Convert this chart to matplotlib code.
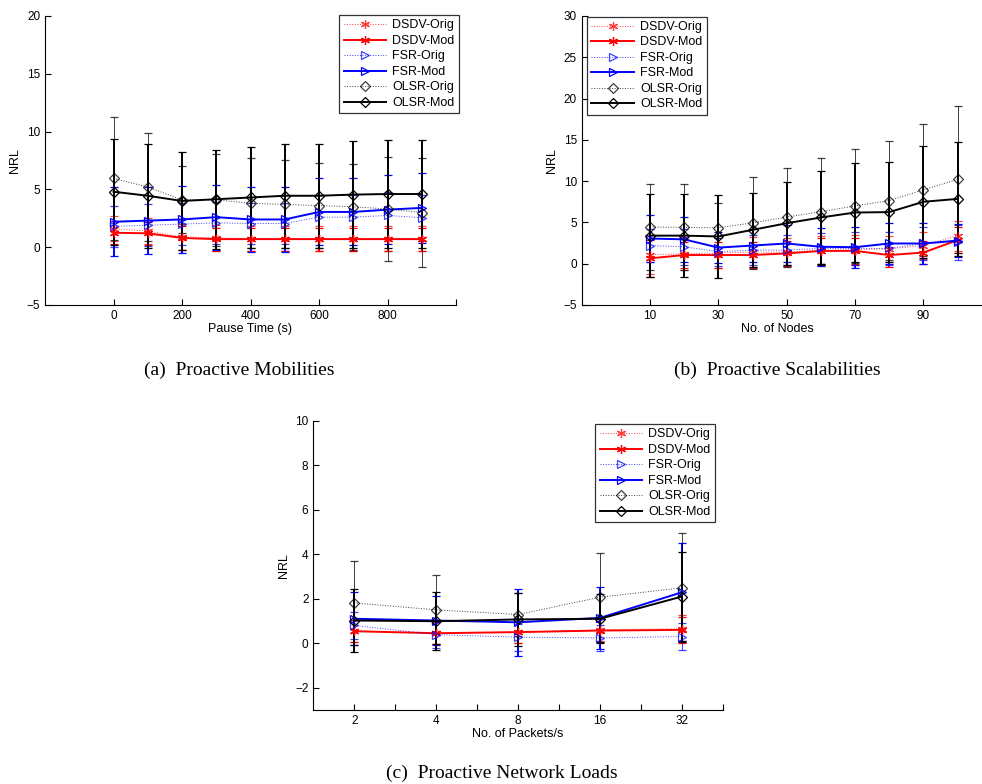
import numpy as np
import matplotlib
matplotlib.use("Agg")
from matplotlib import pyplot as plt

plt.rcParams['font.family'] = ['Liberation Sans', 'DejaVu Sans']

# Legend names, in drawing order
series_names = ['DSDV-Orig', 'DSDV-Mod', 'FSR-Orig', 'FSR-Mod', 'OLSR-Orig', 'OLSR-Mod']

# (a) mobility: NRL against pause time
pause_time = [0, 100, 200, 300, 400, 500, 600, 700, 800, 900]
mob_dsdv_orig = [1.6, 1.4, 0.9, 0.8, 0.75, 0.75, 0.75, 0.75, 0.75, 0.75]
mob_dsdv_orig_err = [1.1, 1.1, 1.1, 1.1, 1.1, 1.1, 1.1, 1.1, 1.1, 1.1]
mob_dsdv_mod = [1.25, 1.2, 0.8, 0.7, 0.7, 0.7, 0.7, 0.7, 0.7, 0.7]
mob_dsdv_mod_err = [1.0, 1.0, 1.0, 1.0, 1.0, 1.0, 1.0, 1.0, 1.0, 1.0]
mob_fsr_orig = [1.8, 1.9, 2.0, 2.1, 2.05, 2.05, 2.6, 2.6, 2.75, 2.55]
mob_fsr_orig_err = [1.8, 1.8, 1.8, 1.8, 1.8, 1.8, 1.9, 1.9, 2.0, 2.0]
mob_fsr_mod = [2.2, 2.3, 2.4, 2.6, 2.4, 2.4, 3.05, 3.05, 3.25, 3.4]
mob_fsr_mod_err = [3.0, 2.9, 2.9, 2.8, 2.8, 2.8, 2.9, 2.9, 3.0, 3.05]
mob_olsr_orig = [5.95, 5.2, 4.1, 4.1, 3.8, 3.7, 3.6, 3.5, 3.3, 3.0]
mob_olsr_orig_err = [5.3, 4.7, 2.9, 4.0, 3.9, 3.8, 3.7, 3.7, 4.5, 4.7]
mob_olsr_mod = [4.8, 4.45, 4.0, 4.15, 4.3, 4.45, 4.45, 4.55, 4.6, 4.6]
mob_olsr_mod_err = [4.6, 4.5, 4.2, 4.3, 4.4, 4.5, 4.5, 4.6, 4.65, 4.65]

# (b) scalability: NRL against number of nodes
num_nodes = [10, 20, 30, 40, 50, 60, 70, 80, 90, 100]
sc_dsdv_orig = [1.1, 1.2, 1.3, 1.4, 1.4, 1.6, 1.7, 1.8, 2.2, 3.4]
sc_dsdv_orig_err = [2.4, 2.0, 1.8, 1.8, 1.7, 1.8, 1.8, 1.6, 1.6, 1.8]
sc_dsdv_mod = [0.65, 1.05, 1.05, 1.05, 1.25, 1.55, 1.55, 1.05, 1.35, 2.85]
sc_dsdv_mod_err = [2.2, 1.6, 1.6, 1.6, 1.5, 1.6, 1.6, 1.4, 1.4, 1.6]
sc_fsr_orig = [2.2, 2.05, 1.45, 1.65, 1.65, 1.85, 1.85, 1.85, 2.45, 2.6]
sc_fsr_orig_err = [2.0, 2.2, 1.7, 1.8, 1.8, 1.9, 2.0, 2.0, 2.0, 2.1]
sc_fsr_mod = [3.05, 2.95, 1.95, 2.2, 2.45, 2.05, 2.0, 2.45, 2.45, 2.8]
sc_fsr_mod_err = [2.8, 2.7, 1.9, 2.0, 2.2, 2.3, 2.5, 2.5, 2.5, 2.0]
sc_olsr_orig = [4.45, 4.4, 4.35, 4.95, 5.65, 6.3, 7.0, 7.65, 8.95, 10.2]
sc_olsr_orig_err = [5.25, 5.2, 3.0, 5.6, 6.0, 6.5, 6.9, 7.2, 8.0, 8.9]
sc_olsr_mod = [3.4, 3.4, 3.3, 4.1, 4.9, 5.6, 6.2, 6.25, 7.5, 7.85]
sc_olsr_mod_err = [5.0, 5.0, 5.0, 4.5, 5.0, 5.6, 6.0, 6.1, 6.75, 6.95]

# (c) network load: NRL against packet rate
packet_rates = ['2', '4', '8', '16', '32']
ld_dsdv_orig = [0.55, 0.45, 0.5, 0.6, 0.65]
ld_dsdv_orig_err = [0.5, 0.5, 0.5, 0.5, 0.6]
ld_dsdv_mod = [0.54, 0.45, 0.5, 0.57, 0.6]
ld_dsdv_mod_err = [0.5, 0.5, 0.5, 0.5, 0.6]
ld_fsr_orig = [0.8, 0.39, 0.27, 0.24, 0.3]
ld_fsr_orig_err = [0.6, 0.6, 0.6, 0.6, 0.6]
ld_fsr_mod = [1.1, 1.02, 0.94, 1.14, 2.29]
ld_fsr_mod_err = [1.2, 1.1, 1.5, 1.4, 2.2]
ld_olsr_orig = [1.81, 1.5, 1.29, 2.07, 2.49]
ld_olsr_orig_err = [1.9, 1.55, 0.95, 2.0, 2.45]
ld_olsr_mod = [1.02, 0.99, 1.07, 1.1, 2.1]
ld_olsr_mod_err = [1.4, 1.3, 1.2, 1.1, 2.0]

# colour, marker, line style per series ((6, 2, 0) is an asterisk)
styles = [
    ('red', (6, 2, 0), ':'),
    ('red', (6, 2, 0), '-'),
    ('blue', '>', ':'),
    ('blue', '>', '-'),
    ('black', 'D', ':'),
    ('black', 'D', '-'),
]
marker_sizes = {'>': 5.5, 'D': 5}


def draw_panel(ax, x, means, errs):
    for name, (color, marker, ls), y, e in zip(series_names, styles, means, errs):
        thin = ls == ':'
        lw = 0.7 if thin else 1.4
        ax.errorbar(x, y, yerr=e, color=color, ecolor=color, linestyle=ls, linewidth=lw,
                    elinewidth=0.7 if thin else 1.4, capsize=3, capthick=lw,
                    marker=marker, markersize=marker_sizes.get(marker, 6.5),
                    markerfacecolor='none', markeredgecolor=color,
                    markeredgewidth=0.9, label=name,
                    alpha=0.75 if thin else 1.0)
    for side in ('top', 'right'):
        ax.spines[side].set_visible(False)
    for side in ('left', 'bottom'):
        ax.spines[side].set_linewidth(0.8)
    ax.tick_params(direction='in', length=4, width=0.8, labelsize=8.5, which='both')
    ax.set_ylabel('NRL', fontsize=9)


def add_legend(fig, ax, anchor, loc):
    handles, labels = ax.get_legend_handles_labels()
    handles = [h[0] for h in handles]
    leg = fig.legend(handles, labels, loc=loc, bbox_to_anchor=anchor,
                     bbox_transform=fig.transFigure, fontsize=9, frameon=True,
                     fancybox=False, edgecolor='black', handlelength=3.4,
                     labelspacing=0.28, borderpad=0.35, handletextpad=0.5,
                     borderaxespad=0)
    leg.get_frame().set_linewidth(0.9)


W, H = 982, 784
fig = plt.figure(figsize=(W / 100, H / 100), dpi=100)

# (a) Proactive Mobilities
ax_a = fig.add_axes([45 / W, 1 - 305 / H, 411 / W, 289 / H])
draw_panel(ax_a, pause_time,
           [mob_dsdv_orig, mob_dsdv_mod, mob_fsr_orig, mob_fsr_mod, mob_olsr_orig, mob_olsr_mod],
           [mob_dsdv_orig_err, mob_dsdv_mod_err, mob_fsr_orig_err, mob_fsr_mod_err,
            mob_olsr_orig_err, mob_olsr_mod_err])
ax_a.set_xlim(-200, 1000)
ax_a.set_ylim(-5, 20)
ax_a.set_xticks(range(0, 801, 200))
ax_a.set_xticks([1000], minor=True)
ax_a.set_yticks(range(-5, 21, 5))
ax_a.set_xlabel('Pause Time (s)', fontsize=9, labelpad=1)
add_legend(fig, ax_a, (459 / W, 1 - 15 / H), 'upper right')

# (b) Proactive Scalabilities -- the axes run past the right edge
ax_b = fig.add_axes([581.7 / W, 1 - 305 / H, 410 / W, 289 / H])
draw_panel(ax_b, num_nodes,
           [sc_dsdv_orig, sc_dsdv_mod, sc_fsr_orig, sc_fsr_mod, sc_olsr_orig, sc_olsr_mod],
           [sc_dsdv_orig_err, sc_dsdv_mod_err, sc_fsr_orig_err, sc_fsr_mod_err,
            sc_olsr_orig_err, sc_olsr_mod_err])
ax_b.set_xlim(-10, 110)
ax_b.set_ylim(-5, 30)
ax_b.set_xticks(range(10, 91, 20))
ax_b.set_yticks(range(-5, 31, 5))
ax_b.set_xlabel('No. of Nodes', fontsize=9, labelpad=1)
ax_b.xaxis.set_label_coords((777 - 581.7) / 410, -0.062)
add_legend(fig, ax_b, (587 / W, 1 - 16.5 / H), 'upper left')

# (c) Proactive Network Loads
ax_c = fig.add_axes([313.3 / W, 1 - 710 / H, 409.7 / W, 289.3 / H])
load_pos = np.arange(1, len(packet_rates) + 1)
draw_panel(ax_c, load_pos,
           [ld_dsdv_orig, ld_dsdv_mod, ld_fsr_orig, ld_fsr_mod, ld_olsr_orig, ld_olsr_mod],
           [ld_dsdv_orig_err, ld_dsdv_mod_err, ld_fsr_orig_err, ld_fsr_mod_err,
            ld_olsr_orig_err, ld_olsr_mod_err])
ax_c.set_xlim(0.5, len(packet_rates) + 0.5)
ax_c.set_ylim(-3, 10)
ax_c.set_xticks(load_pos)
ax_c.set_xticklabels(packet_rates)
ax_c.set_xticks(load_pos + 0.5, minor=True)
ax_c.set_yticks(range(-2, 11, 2))
ax_c.set_xlabel('No. of Packets/s', fontsize=9, labelpad=1)
add_legend(fig, ax_c, (715 / W, 1 - 424 / H), 'upper right')

# sub-figure captions
cap = dict(fontsize=14, family='Liberation Serif', ha='center', va='center')
fig.text(239 / W, 1 - 370 / H, '(a)  Proactive Mobilities', **cap)
fig.text(777 / W, 1 - 370 / H, '(b)  Proactive Scalabilities', **cap)
fig.text(502 / W, 1 - 773 / H, '(c)  Proactive Network Loads', **cap)

fig.savefig('out.png', dpi=100)
